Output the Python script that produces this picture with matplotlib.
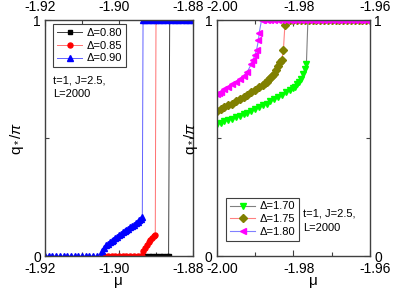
import matplotlib
matplotlib.use("Agg")
import matplotlib.pyplot as plt
import matplotlib.transforms as mtransforms
from matplotlib.ticker import FixedLocator

plt.rcParams['font.family'] = ['Liberation Sans', 'DejaVu Sans']
plt.rcParams['mathtext.fontset'] = 'custom'
plt.rcParams['mathtext.rm'] = 'Liberation Sans'
plt.rcParams['mathtext.it'] = 'Liberation Sans:italic'

# ---------------- left panel data ----------------
mu_080 = [-1.8935, -1.893, -1.892, -1.891, -1.890, -1.889, -1.888, -1.887, -1.8866,
          -1.8863, -1.886, -1.885, -1.884, -1.883, -1.882, -1.881, -1.880]
q_080 = [0, 0, 0, 0, 0, 0, 0, 0, 0,
         1, 1, 1, 1, 1, 1, 1, 1]

mu_085 = [-1.905, -1.904, -1.903, -1.902, -1.901, -1.900, -1.899, -1.898, -1.897, -1.896,
          -1.895, -1.894, -1.8938, -1.8934, -1.8930, -1.8925, -1.8920, -1.8915, -1.8910,
          -1.8905, -1.8902, -1.8900, -1.889, -1.888, -1.887, -1.886, -1.885, -1.884,
          -1.883, -1.882, -1.881, -1.880]
q_085 = [0, 0, 0, 0, 0, 0, 0, 0, 0, 0,
         0, 0, 0.0, 0.02, 0.035, 0.047, 0.058, 0.066, 0.077,
         0.085, 0.090, 1, 1, 1, 1, 1, 1, 1,
         1, 1, 1, 1]

mu_090 = [-1.920, -1.919, -1.918, -1.917, -1.916, -1.915, -1.914, -1.913, -1.912, -1.911,
          -1.910, -1.909, -1.908, -1.907, -1.906, -1.9050, -1.9045, -1.9040, -1.9035,
          -1.9030, -1.9025, -1.9020, -1.9015, -1.9010, -1.9005, -1.9000, -1.8995, -1.8990,
          -1.8985, -1.8980, -1.8975, -1.8970, -1.8965, -1.8960, -1.8955, -1.8950, -1.8945,
          -1.8940, -1.8937, -1.8935, -1.893, -1.892, -1.891, -1.890, -1.889, -1.888,
          -1.887, -1.886, -1.885, -1.884, -1.883, -1.882, -1.881, -1.880]
q_090 = [0, 0, 0, 0, 0, 0, 0, 0, 0, 0,
         0, 0, 0, 0, 0, 0.0, 0.02, 0.035, 0.045,
         0.052, 0.058, 0.063, 0.069, 0.076, 0.082, 0.088, 0.094, 0.100,
         0.105, 0.110, 0.116, 0.121, 0.126, 0.132, 0.138, 0.145, 0.151,
         0.158, 0.166, 1, 1, 1, 1, 1, 1, 1,
         1, 1, 1, 1, 1, 1, 1, 1]

# ---------------- right panel data ----------------
mu_170 = [-2.000, -1.999, -1.998, -1.997, -1.996, -1.995, -1.994, -1.993, -1.992, -1.991,
          -1.990, -1.989, -1.988, -1.987, -1.986, -1.985, -1.984, -1.983, -1.982, -1.981,
          -1.980, -1.9795, -1.979, -1.9785, -1.978, -1.9775, -1.977, -1.9766,
          -1.9762, -1.975, -1.974, -1.973, -1.972, -1.971, -1.970, -1.969, -1.968,
          -1.967, -1.966, -1.965, -1.964, -1.963, -1.962, -1.961, -1.960]
q_170 = [0.560, 0.565, 0.571, 0.576, 0.582, 0.589, 0.595, 0.601, 0.608, 0.615,
         0.622, 0.630, 0.638, 0.646, 0.655, 0.664, 0.673, 0.683, 0.693, 0.702,
         0.711, 0.718, 0.727, 0.737, 0.752, 0.770, 0.792, 0.812,
         1, 1, 1, 1, 1, 1, 1, 1, 1,
         1, 1, 1, 1, 1, 1, 1, 1]

mu_175 = [-2.000, -1.999, -1.998, -1.997, -1.996, -1.995, -1.994, -1.993, -1.992, -1.991,
          -1.990, -1.989, -1.988, -1.9875, -1.987, -1.9865, -1.986, -1.9855, -1.985,
          -1.9845, -1.984, -1.9835, -1.983, -1.9826, -1.9822,
          -1.9818, -1.981, -1.980, -1.979, -1.978, -1.977, -1.976, -1.975, -1.974,
          -1.973, -1.972, -1.971, -1.970, -1.969, -1.968, -1.967, -1.966, -1.965,
          -1.964, -1.963, -1.962, -1.961, -1.960]
q_175 = [0.615, 0.622, 0.630, 0.638, 0.646, 0.655, 0.664, 0.673, 0.683, 0.693,
         0.703, 0.714, 0.726, 0.732, 0.739, 0.746, 0.753, 0.762, 0.772,
         0.790, 0.806, 0.820, 0.831, 0.873, 0.979,
         1, 1, 1, 1, 1, 1, 1, 1, 1,
         1, 1, 1, 1, 1, 1, 1, 1, 1,
         1, 1, 1, 1, 1]

mu_180 = [-2.000, -1.9995, -1.999, -1.998, -1.997, -1.996, -1.995, -1.994, -1.993, -1.992,
          -1.991, -1.9905, -1.990, -1.9896, -1.9891, -1.9889,
          -1.9883, -1.988, -1.987, -1.986, -1.985, -1.984, -1.983, -1.982, -1.981,
          -1.980, -1.979, -1.978, -1.977, -1.976, -1.975, -1.974, -1.973, -1.972,
          -1.971, -1.970, -1.969, -1.968, -1.967, -1.966, -1.965, -1.964, -1.963,
          -1.962, -1.961, -1.960]
q_180 = [0.685, 0.690, 0.697, 0.708, 0.717, 0.727, 0.738, 0.750, 0.763, 0.781,
         0.812, 0.832, 0.852, 0.873, 0.915, 0.947,
         1, 1, 1, 1, 1, 1, 1, 1, 1,
         1, 1, 1, 1, 1, 1, 1, 1, 1,
         1, 1, 1, 1, 1, 1, 1, 1, 1,
         1, 1, 1]

left_xticks = [-1.92, -1.90, -1.88]
left_xlabels = ['-1.92', '-1.90', '-1.88']
right_xticks = [-2.00, -1.98, -1.96]
right_xlabels = ['-2.00', '-1.98', '-1.96']
yticks = [0, 1]
ylabels = ['0', '1']

spine_c = '#404040'

fig = plt.figure(figsize=(4.07, 2.88), dpi=100)
axL = fig.add_axes([45/407, 32/288, 148/407, 236/288])
axR = fig.add_axes([216.7/407, 32/288, 153.3/407, 236/288])


def style(ax, xt, xl, xlim, minors, right_labels, xshift):
    ax.set_xlim(*xlim)
    ax.set_ylim(0, 1)
    ax.set_xticks(xt)
    ax.set_xticklabels(xl)
    ax.xaxis.set_minor_locator(FixedLocator(minors))
    ax.set_yticks(yticks)
    ax.set_yticklabels(ylabels)
    ax.yaxis.set_minor_locator(FixedLocator([0.5]))
    ax.tick_params(axis='both', which='both', direction='in', top=True, right=True,
                   labeltop=True, labelbottom=True, labelleft=True,
                   labelright=right_labels, labelsize=10,
                   color=spine_c)
    ax.tick_params(axis='x', which='both', pad=4)
    ax.tick_params(axis='y', which='both', pad=3)
    ax.tick_params(which='major', length=4, width=0.8)
    ax.tick_params(which='minor', length=3, width=0.8)
    for s in ax.spines.values():
        s.set_color(spine_c)
        s.set_linewidth(1.0)
    off = mtransforms.ScaledTranslation(xshift / 72, 0, fig.dpi_scale_trans)
    for tick in ax.xaxis.get_major_ticks():
        tick.label1.set_transform(tick.label1.get_transform() + off)
        tick.label2.set_transform(tick.label2.get_transform() + off)


style(axL, left_xticks, left_xlabels, (-1.92, -1.88), [-1.91, -1.89], False, -3.5)
style(axR, right_xticks, right_xlabels, (-2.00, -1.96), [-1.99, -1.97], True, 3.8)

# left panel curves
axL.plot(mu_080, q_080, color='#404040', lw=0.7, marker='s', ms=3.2,
         mfc='black', mec='black', label='Δ=0.80')
axL.plot(mu_085, q_085, color='#ff7070', lw=0.7, marker='o', ms=3.6,
         mfc='red', mec='red', label='Δ=0.85')
axL.plot(mu_090, q_090, color='#6060ff', lw=0.7, marker='^', ms=3.8,
         mfc='blue', mec='blue', label='Δ=0.90')

# right panel curves
axR.plot(mu_170, q_170, color='#808080', lw=0.8, marker='v', ms=4.5,
         mfc='#00ff00', mec='#00ff00', label='Δ=1.70')
axR.plot(mu_175, q_175, color='#ff8080', lw=0.8, marker='D', ms=3.8,
         mfc='#808000', mec='#808000', label='Δ=1.75')
axR.plot(mu_180, q_180, color='#8080ff', lw=0.8, marker='<', ms=4.5,
         mfc='#ff00ff', mec='#ff00ff', label='Δ=1.80')

legkw = dict(fontsize=8, handlelength=2.3, handletextpad=0.4, labelspacing=0.25,
             borderpad=0.35, borderaxespad=0, fancybox=False, framealpha=1,
             edgecolor='#404040')
lgL = axL.legend(loc='upper left', bbox_to_anchor=(0.054, 0.983), **legkw)
lgR = axR.legend(loc='lower left', bbox_to_anchor=(0.061, 0.064), **legkw)
for lg in (lgL, lgR):
    lg.get_frame().set_linewidth(0.8)

axL.text(0.054, 0.765, 't=1, J=2.5,\nL=2000', transform=axL.transAxes,
         fontsize=8, va='top', ha='left', linespacing=1.5)
axR.text(0.563, 0.200, 't=1, J=2.5,\nL=2000', transform=axR.transAxes,
         fontsize=8, va='top', ha='left', linespacing=1.5)

ylab = r'$\mathrm{q}_*/\pi$'
axL.set_ylabel(ylab, fontsize=11)
axR.set_ylabel(ylab, fontsize=11)
axL.yaxis.set_label_coords(-0.128, 0.5)
axR.yaxis.set_label_coords(-0.109, 0.5)

axL.set_xlabel('μ', fontsize=11)
axR.set_xlabel('μ', fontsize=11)
axL.xaxis.set_label_coords(0.493, -0.075)
axR.xaxis.set_label_coords(0.628, -0.075)

fig.savefig('out.png', dpi=100)
